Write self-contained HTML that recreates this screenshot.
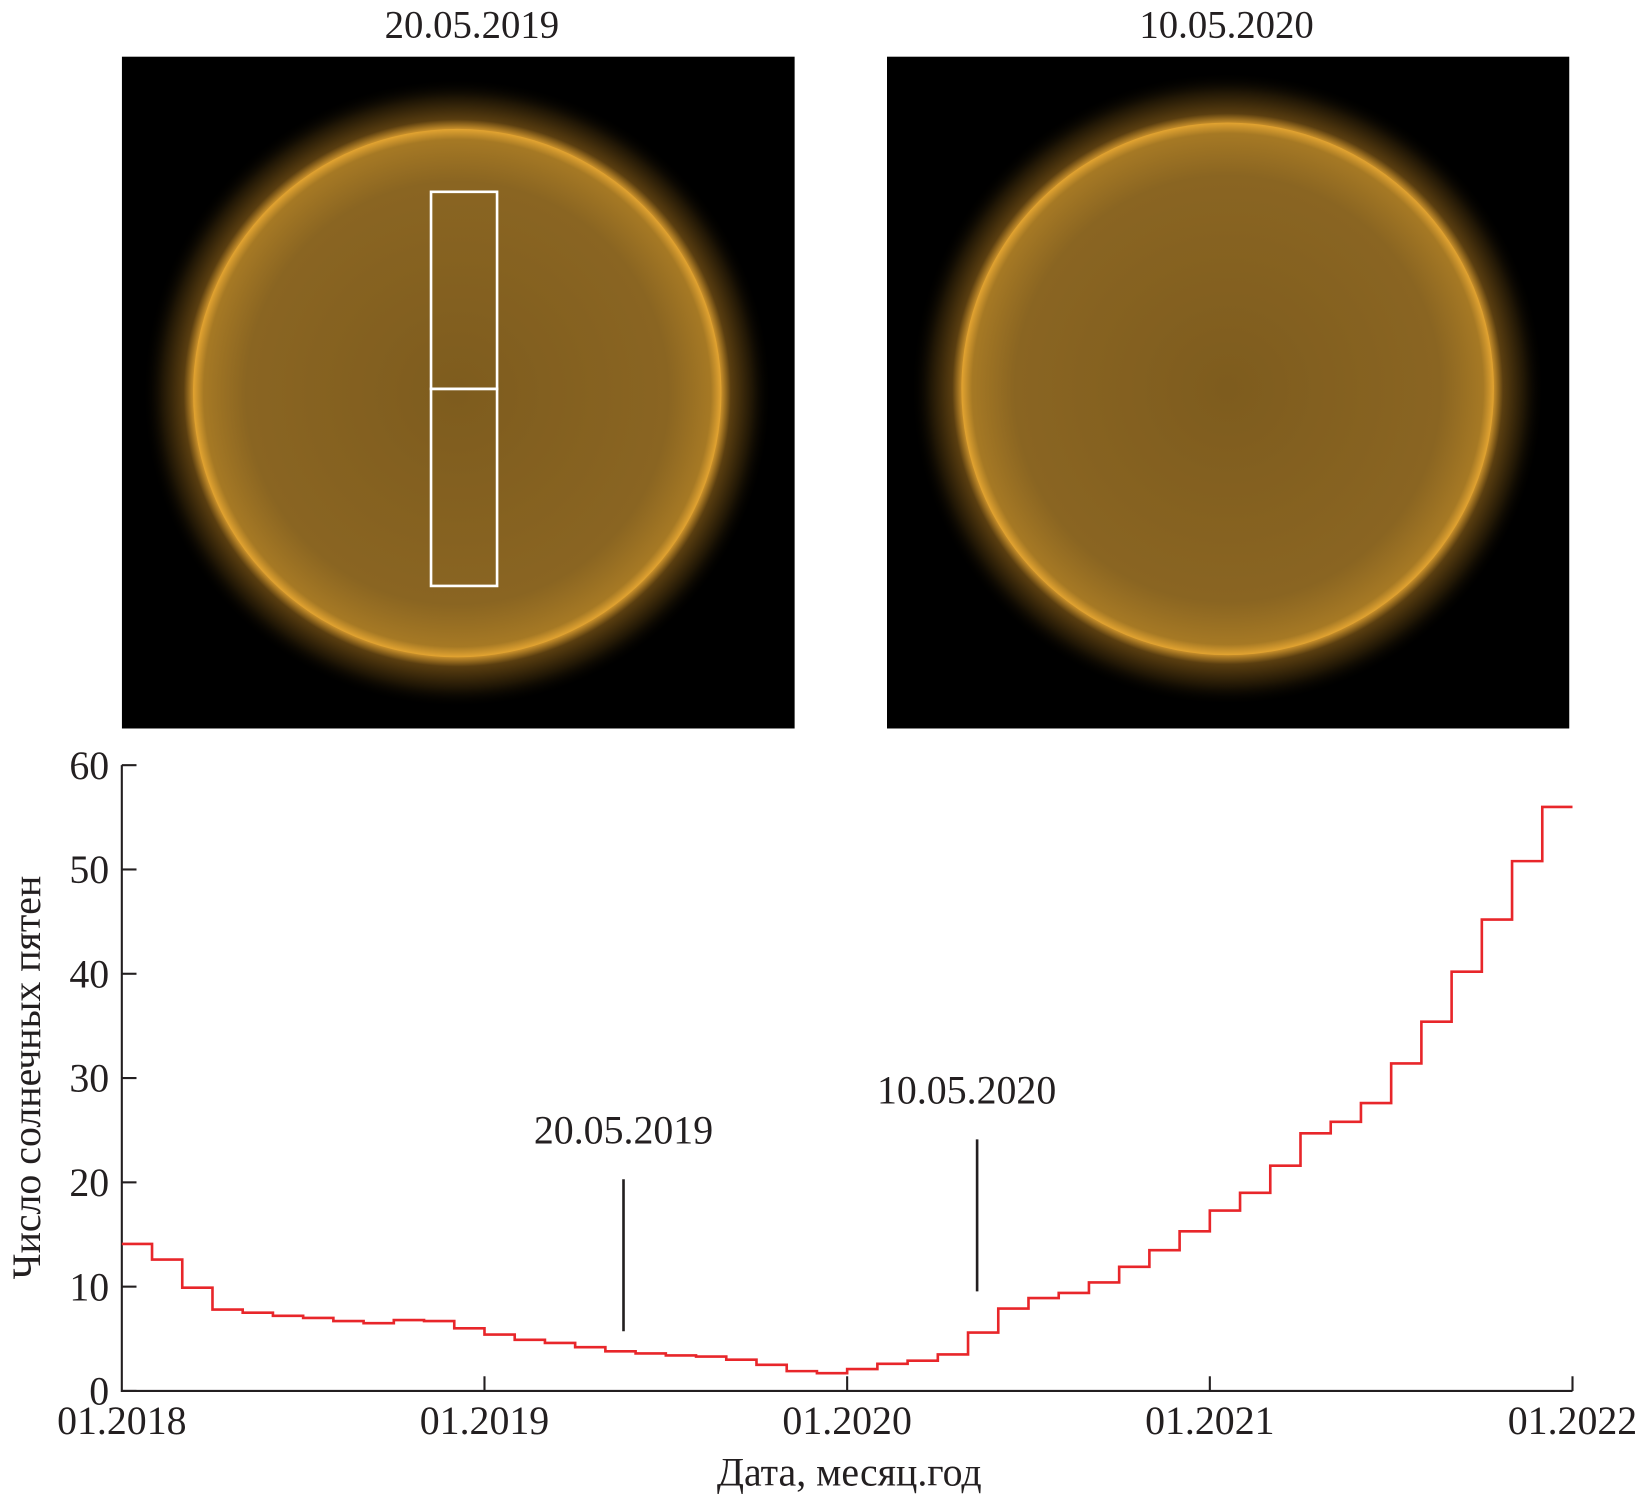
<!DOCTYPE html>
<html><head><meta charset="utf-8"><style>
html,body{margin:0;padding:0;background:#fff;}
svg{display:block;}
text{font-family:"Liberation Serif",serif;fill:#231f20;}
</style></head><body>
<svg width="1644" height="1501" viewBox="0 0 1568 1432" xmlns="http://www.w3.org/2000/svg">
<defs>
<radialGradient id="disk" cx="0.5" cy="0.5" r="0.5">
<stop offset="0" stop-color="#7e5c1e"/>
<stop offset="0.8" stop-color="#8a6522"/>
<stop offset="0.96" stop-color="#a67924"/>
<stop offset="1" stop-color="#e3a431"/>
</radialGradient>
<radialGradient id="corona" cx="0.5" cy="0.5" r="0.5">
<stop offset="0" stop-color="#e0a030"/>
<stop offset="0.84" stop-color="#c88f2a"/>
<stop offset="0.87" stop-color="#5a3e10"/>
<stop offset="0.94" stop-color="#1e1505"/>
<stop offset="1" stop-color="#000" stop-opacity="0"/>
</radialGradient>
<clipPath id="clipL"><rect x="116" y="54" width="642" height="641"/></clipPath>
<clipPath id="clipR"><rect x="846" y="54" width="651" height="641"/></clipPath>
</defs>
<text x="450" y="36" font-size="37" text-anchor="middle">20.05.2019</text>
<text x="1170" y="36" font-size="37" text-anchor="middle">10.05.2020</text>
<g clip-path="url(#clipL)">
<rect x="116" y="54" width="642" height="641" fill="#000"/>
<circle cx="436" cy="375" r="300" fill="url(#corona)"/>
<circle cx="436" cy="375" r="252" fill="url(#disk)"/>
<rect x="411" y="183" width="63" height="188" fill="none" stroke="#fff" stroke-width="2.5"/>
<rect x="411" y="371" width="63" height="188" fill="none" stroke="#fff" stroke-width="2.5"/>
</g>
<g clip-path="url(#clipR)">
<rect x="846" y="54" width="651" height="641" fill="#000"/>
<circle cx="1171" cy="371" r="302" fill="url(#corona)"/>
<circle cx="1171" cy="371" r="254" fill="url(#disk)"/>
</g>
<g id="chart"></g>
</svg>
<script>
const months = 48;
const sunspots = [14.1,12.6,9.9,7.8,7.5,7.2,7.0,6.7,6.5,6.8,6.7,6.0,
5.4,4.9,4.6,4.2,3.8,3.6,3.4,3.3,3.0,2.5,1.9,1.7,
2.1,2.6,2.9,3.5,5.6,7.9,8.9,9.4,10.4,11.9,13.5,15.3,
17.3,19.0,21.6,24.7,25.8,27.6,31.4,35.4,40.2,45.2,50.8,56.0];
const yTicks = [0,10,20,30,40,50,60];
const xTickLabels = ['01.2018','01.2019','01.2020','01.2021','01.2022'];
const markerMonths = [16.6,28.3];
const markerLabels = ['20.05.2019','10.05.2020'];

const NS='http://www.w3.org/2000/svg';
const g=document.getElementById('chart');
const X0=116,X1=1500,Y0=1327,Y60=730;
const xs=m=>X0+(X1-X0)*m/months;
const ys=v=>Y0+(Y60-Y0)*v/60;
function mk(t,a,p){const e=document.createElementNS(NS,t);for(const k in a)e.setAttribute(k,a[k]);(p||g).appendChild(e);return e;}

const axes=mk('path',{d:`M${X0},${ys(60)}V${Y0}H${X1}`,fill:'none',stroke:'#231f20','stroke-width':2});


yTicks.forEach(v=>{
  const t=mk('line',{x1:X0,x2:X0+14,y1:ys(v),y2:ys(v),stroke:'#231f20','stroke-width':2});
  
  
  const l=mk('text',{x:X0-12,y:ys(v)+13,'font-size':38,'text-anchor':'end'});l.textContent=v;
  
  
});
xTickLabels.forEach((s,i)=>{
  const x=xs(i*12);
  if(i>0){const t=mk('line',{x1:x,x2:x,y1:Y0,y2:Y0-14,stroke:'#231f20','stroke-width':2});
  
  }
  const l=mk('text',{x:x,y:Y0+41,'font-size':38,'text-anchor':'middle'});l.textContent=s;
  
  
});
let d='';
sunspots.forEach((v,i)=>{d+=(i?'V':'M'+xs(i)+',')+ys(v)+'H'+xs(i+1);});
const line=mk('path',{d:d,fill:'none',stroke:'#e8262a','stroke-width':2.5});


markerMonths.forEach((m,i)=>{
  const x=xs(m);
  const top=i===0?1125:1087;
  const ml=mk('line',{x1:x,x2:x,y1:top,y2:top+145,stroke:'#231f20','stroke-width':2.5});
  
  
  const t=mk('text',{x:x-(i?10:0),y:top-34,'font-size':38,'text-anchor':'middle'});t.textContent=markerLabels[i];
  
  
});
const yt=mk('text',{transform:'translate(38,1028) rotate(-90)','font-size':38,'text-anchor':'middle'});yt.textContent='Число солнечных пятен';


const xt=mk('text',{x:810,y:1417,'font-size':38,'text-anchor':'middle'});xt.textContent='Дата, месяц.год';


</script>
</body></html>
